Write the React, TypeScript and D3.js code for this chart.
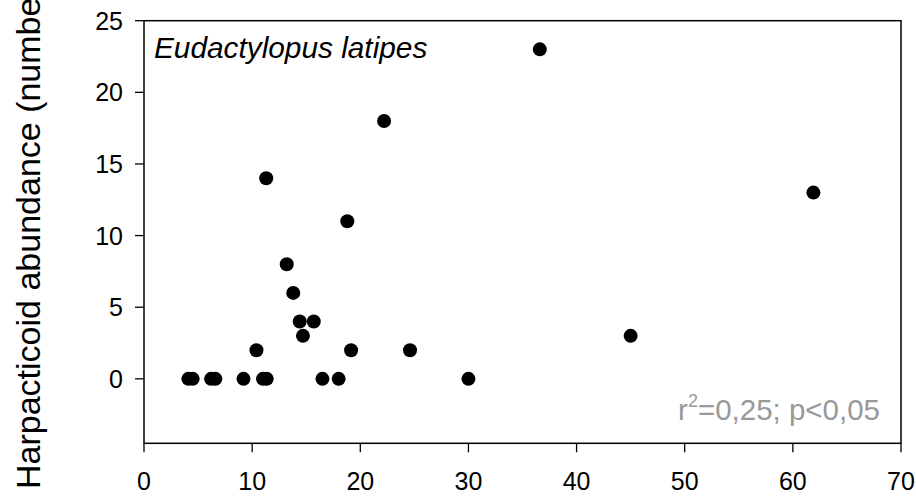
import React from "react";
import * as d3 from "d3";

const xValues = [11.3, 18.8, 13.2, 13.8, 14.4, 15.7, 14.7, 10.4, 19.15, 24.6, 36.6, 22.2, 61.9, 45.0, 4.1, 4.5, 6.2, 6.6, 9.2, 11.0, 11.35, 16.5, 18.0, 30.0];
const yValues = [14, 11, 8, 6, 4, 4, 3, 2, 2, 2, 23, 18, 13, 3, 0, 0, 0, 0, 0, 0, 0, 0, 0, 0];
const xTicks = [0, 10, 20, 30, 40, 50, 60, 70];
const yTicks = [0, 5, 10, 15, 20, 25];

const W = 916;
const H = 497;
const left = 144;
const right = 901;
const top = 20.7;
const bottom = 443.3;

export default function App() {
  const x = d3.scaleLinear().domain([0, 70]).range([left, right]);
  const y = d3.scaleLinear().domain([-4.5, 25]).range([bottom, top]);
  const font = "Arial, 'Liberation Sans', Helvetica, sans-serif";
  const pts = xValues.map((v, i) => ({ x: v, y: yValues[i] }));
  return (
    <svg width={W} height={H} style={{ position: "absolute", left: 0, top: 0, background: "#fff" }} fontFamily={font}>
      <rect x={0} y={0} width={W} height={H} fill="#fff" />
      {/* frame */}
      <rect x={left} y={top} width={right - left} height={bottom - top} fill="none" stroke="#000" strokeWidth={1.5} />
      {/* y ticks */}
      {yTicks.map((t) => (
        <g key={"y" + t}>
          <line x1={left - 9} x2={left} y1={y(t)} y2={y(t)} stroke="#000" strokeWidth={1.3} />
          <text x={left - 21} y={y(t)} textAnchor="end" dominantBaseline="central" fontSize={25} fill="#000">
            {t}
          </text>
        </g>
      ))}
      {/* x ticks */}
      {xTicks.map((t) => (
        <g key={"x" + t}>
          <line x1={x(t)} x2={x(t)} y1={bottom} y2={bottom + 9} stroke="#000" strokeWidth={1.3} />
          <text x={x(t)} y={490} textAnchor="middle" fontSize={25} fill="#000">
            {t}
          </text>
        </g>
      ))}
      {/* points */}
      {pts.map((p, i) => (
        <circle key={i} cx={x(p.x)} cy={y(p.y)} r={7} fill="#000" />
      ))}
      {/* species label */}
      <text x={154} y={58} fontSize={29.8} fontStyle="italic" fill="#000">
        Eudactylopus latipes
      </text>
      {/* stats */}
      <text x={880} y={420} textAnchor="end" fontSize={29.5} fill="#999999">
        r<tspan fontSize={18} dy={-13}>2</tspan>
        <tspan dy={13}>=0,25; p&lt;0,05</tspan>
      </text>
      {/* y axis title (clipped at the top edge, as in the reference) */}
      <text transform="translate(40,489) rotate(-90)" fontSize={34} fill="#000">
        Harpacticoid abundance (number of individuals)
      </text>
    </svg>
  );
}
